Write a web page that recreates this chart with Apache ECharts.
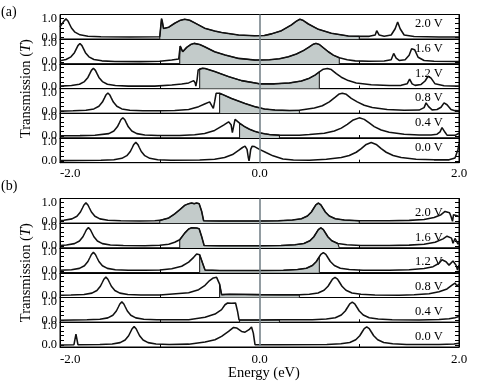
<!DOCTYPE html>
<html><head><meta charset="utf-8">
<script src="https://cdn.jsdelivr.net/npm/echarts@6/dist/echarts.min.js"></script>
<style>html,body{margin:0;padding:0;background:#fff}#c{width:491px;height:390px}</style>
</head><body><div id="c"></div>
<script>
// Voltage labels, rows top to bottom
const voltageLabels = ['2.0 V', '1.6 V', '1.2 V', '0.8 V', '0.4 V', '0.0 V'];
// Half width of the bias window (eV) for each row
const biasHalfWindow = [1.0, 0.8, 0.6, 0.4, 0.2, 0.0];
const xTickLabels = [-2, 0, 2];
const yTickLabels = [0, 1];
const yMinorTicks = [0, 0.25, 0.5, 0.75, 1];

// ---------- panel (a) ----------
const a20 = [[-2.0,0.55],[-1.985,0.62],[-1.96,0.86],[-1.94,0.97],[-1.92,0.86],[-1.905,0.7],[-1.885,0.49],[-1.85,0.27],[-1.8,0.13],[-1.72,0.06],[-1.59,0.03],[-1.3,0.02],
 [-1.0,0.03],[-0.988,0.05],[-0.982,0.98],[-0.975,0.85],[-0.962,0.46],[-0.95,0.44],[-0.91,0.53],[-0.85,0.74],[-0.8,0.88],[-0.75,0.95],[-0.7,0.9],[-0.65,0.76],[-0.55,0.48],[-0.45,0.33],[-0.38,0.25],[-0.21,0.12],[-0.05,0.08],
 [0.05,0.1],[0.12,0.18],[0.22,0.35],[0.32,0.65],[0.37,0.85],[0.405,0.95],[0.44,0.88],[0.49,0.7],[0.59,0.42],[0.72,0.21],[0.89,0.07],[1.0,0.05],
 [1.1,0.05],[1.16,0.12],[1.175,0.35],[1.185,0.4],[1.2,0.12],[1.25,0.06],[1.32,0.12],[1.36,0.45],[1.385,0.8],[1.41,0.45],[1.45,0.12],[1.55,0.04],[1.8,0.02],[2.0,0.02]];
const a16 = [[-2.0,0.07],[-1.94,0.13],[-1.89,0.27],[-1.855,0.49],[-1.835,0.7],[-1.82,0.86],[-1.8,0.97],[-1.78,0.86],[-1.765,0.7],[-1.745,0.49],[-1.71,0.27],[-1.66,0.13],[-1.58,0.06],[-1.45,0.03],[-1.2,0.02],
 [-1.0,0.04],[-0.88,0.1],[-0.81,0.16],[-0.8,0.2],[-0.795,0.84],[-0.785,0.72],[-0.77,0.54],[-0.75,0.62],[-0.73,0.77],[-0.69,0.92],[-0.655,0.98],[-0.6,0.92],[-0.55,0.8],[-0.45,0.54],[-0.345,0.37],[-0.21,0.19],[-0.045,0.1],
 [0.1,0.12],[0.2,0.17],[0.29,0.28],[0.37,0.42],[0.44,0.6],[0.5,0.8],[0.54,0.94],[0.566,0.98],[0.6,0.92],[0.64,0.75],[0.69,0.54],[0.74,0.36],[0.8,0.22],[0.88,0.12],[0.96,0.06],
 [1.1,0.04],[1.25,0.05],[1.32,0.12],[1.345,0.45],[1.355,0.55],[1.37,0.2],[1.4,0.08],[1.46,0.12],[1.5,0.35],[1.525,0.7],[1.54,0.8],[1.555,0.65],[1.59,0.25],[1.65,0.08],[1.75,0.04],[2.0,0.03]];
const a12 = [[-2.0,0.03],[-1.885,0.06],[-1.805,0.13],[-1.755,0.27],[-1.72,0.49],[-1.7,0.7],[-1.685,0.86],[-1.665,0.97],[-1.645,0.86],[-1.63,0.7],[-1.61,0.49],[-1.575,0.27],[-1.525,0.13],[-1.445,0.06],[-1.315,0.03],
 [-1.05,0.03],[-0.88,0.09],[-0.78,0.14],[-0.71,0.2],[-0.66,0.32],[-0.645,0.2],[-0.638,0.03],[-0.625,0.4],[-0.615,0.88],[-0.6,0.95],[-0.57,0.97],[-0.545,0.96],[-0.45,0.8],[-0.31,0.53],[-0.18,0.32],[-0.045,0.2],[0.0,0.15],
 [0.15,0.15],[0.3,0.2],[0.42,0.3],[0.5,0.45],[0.56,0.62],[0.6,0.78],[0.64,0.92],[0.68,0.96],[0.72,0.9],[0.77,0.69],[0.82,0.5],[0.89,0.32],[0.97,0.2],[1.12,0.1],
 [1.3,0.06],[1.42,0.07],[1.48,0.15],[1.505,0.4],[1.515,0.45],[1.53,0.15],[1.56,0.07],[1.62,0.12],[1.66,0.3],[1.69,0.55],[1.705,0.6],[1.72,0.45],[1.76,0.15],[1.85,0.05],[2.0,0.03]];
const a08 = [[-2.0,0.015],[-1.87,0.03],[-1.74,0.06],[-1.66,0.13],[-1.61,0.27],[-1.575,0.49],[-1.555,0.7],[-1.54,0.86],[-1.52,0.97],[-1.5,0.86],[-1.485,0.7],[-1.465,0.49],[-1.43,0.27],[-1.38,0.13],[-1.3,0.06],[-1.17,0.03],
 [-1.0,0.03],[-0.85,0.05],[-0.71,0.1],[-0.61,0.25],[-0.55,0.39],[-0.5,0.5],[-0.48,0.45],[-0.463,0.16],[-0.45,0.5],[-0.435,0.95],[-0.42,0.97],[-0.4,0.96],[-0.38,0.92],[-0.28,0.68],[-0.145,0.42],[-0.045,0.25],[0.05,0.13],[0.155,0.07],[0.3,0.05],[0.4,0.06],
 [0.45,0.1],[0.55,0.18],[0.63,0.3],[0.7,0.5],[0.76,0.75],[0.8,0.92],[0.83,0.96],[0.87,0.9],[0.92,0.69],[0.98,0.5],[1.05,0.32],[1.13,0.2],[1.28,0.1],
 [1.45,0.06],[1.6,0.07],[1.65,0.2],[1.67,0.45],[1.68,0.55],[1.695,0.25],[1.73,0.08],[1.78,0.1],[1.82,0.22],[1.85,0.45],[1.865,0.5],[1.88,0.35],[1.92,0.1],[1.96,0.04],[2.0,0.03]];
const a04 = [[-2.0,0.015],[-1.8,0.025],[-1.65,0.04],[-1.51,0.13],[-1.46,0.27],[-1.425,0.49],[-1.405,0.7],[-1.39,0.86],[-1.37,0.97],[-1.35,0.86],[-1.335,0.7],[-1.315,0.49],[-1.28,0.27],[-1.23,0.13],[-1.15,0.06],[-1.02,0.03],
 [-0.8,0.03],[-0.65,0.07],[-0.55,0.14],[-0.45,0.3],[-0.36,0.58],[-0.31,0.75],[-0.285,0.6],[-0.272,0.18],[-0.26,0.5],[-0.245,0.88],[-0.23,0.9],[-0.2,0.68],[-0.15,0.5],[-0.1,0.36],[-0.05,0.26],[0.0,0.18],[0.05,0.12],[0.1,0.08],[0.2,0.05],[0.4,0.05],
 [0.5,0.08],[0.65,0.15],[0.75,0.27],[0.82,0.42],[0.88,0.62],[0.94,0.85],[1.0,0.96],[1.05,0.88],[1.1,0.69],[1.15,0.5],[1.22,0.32],[1.3,0.2],[1.45,0.1],
 [1.6,0.06],[1.72,0.06],[1.78,0.1],[1.81,0.22],[1.83,0.45],[1.845,0.55],[1.86,0.2],[1.88,0.05],[1.96,0.04],[2.0,0.15]];
const a00 = [[-2.0,0.01],[-1.8,0.015],[-1.59,0.03],[-1.46,0.06],[-1.38,0.13],[-1.33,0.27],[-1.295,0.49],[-1.275,0.7],[-1.26,0.86],[-1.24,0.97],[-1.22,0.86],[-1.205,0.7],[-1.185,0.49],[-1.15,0.27],[-1.1,0.13],[-1.02,0.06],[-0.89,0.03],
 [-0.6,0.04],[-0.45,0.08],[-0.35,0.17],[-0.27,0.33],[-0.21,0.55],[-0.17,0.7],[-0.145,0.77],[-0.125,0.6],[-0.113,0.2],[-0.105,0.0],[-0.097,0.25],[-0.088,0.6],[-0.075,0.76],[-0.05,0.75],[0.0,0.6],[0.07,0.42],[0.135,0.26],[0.235,0.09],[0.34,0.04],[0.5,0.03],
 [0.67,0.08],[0.82,0.17],[0.9,0.28],[0.97,0.45],[1.02,0.64],[1.07,0.86],[1.12,0.96],[1.17,0.86],[1.22,0.64],[1.27,0.45],[1.34,0.28],[1.42,0.17],[1.57,0.08],
 [1.75,0.05],[1.9,0.05],[1.96,0.15],[1.99,0.6],[2.0,0.9]];

// ---------- panel (b) ----------
const b20 = [[-2.0,0.04],[-1.96,0.06],[-1.88,0.13],[-1.83,0.27],[-1.795,0.49],[-1.775,0.7],[-1.76,0.86],[-1.74,0.97],[-1.72,0.86],[-1.705,0.7],[-1.685,0.49],[-1.65,0.27],[-1.6,0.13],[-1.52,0.06],[-1.39,0.03],[-1.2,0.02],
 [-1.05,0.035],[-1.0,0.05],[-0.91,0.18],[-0.85,0.39],[-0.8,0.61],[-0.75,0.84],[-0.71,0.93],[-0.68,0.96],[-0.655,0.93],[-0.63,0.96],[-0.605,0.93],[-0.58,0.53],[-0.56,0.03],[-0.4,0.02],[0.0,0.02],
 [0.19,0.03],[0.33,0.07],[0.42,0.14],[0.48,0.28],[0.52,0.49],[0.545,0.7],[0.565,0.87],[0.59,0.96],[0.615,0.87],[0.635,0.7],[0.66,0.49],[0.7,0.28],[0.76,0.14],[0.85,0.07],[1.0,0.03],
 [1.3,0.03],[1.5,0.05],[1.65,0.1],[1.75,0.2],[1.82,0.35],[1.86,0.52],[1.88,0.58],[1.905,0.45],[1.92,0.25],[1.935,0.0],[1.945,0.35],[1.96,0.45],[1.98,0.3],[2.0,0.25]];
const b16 = [[-2.0,0.03],[-1.935,0.06],[-1.855,0.13],[-1.805,0.27],[-1.77,0.49],[-1.75,0.7],[-1.735,0.86],[-1.715,0.97],[-1.695,0.86],[-1.68,0.7],[-1.66,0.49],[-1.625,0.27],[-1.575,0.13],[-1.495,0.06],[-1.365,0.03],[-1.15,0.02],
 [-1.0,0.04],[-0.91,0.1],[-0.85,0.2],[-0.8,0.33],[-0.75,0.68],[-0.71,0.9],[-0.68,0.96],[-0.63,0.95],[-0.605,0.91],[-0.58,0.5],[-0.555,0.03],[-0.4,0.02],[0.0,0.02],
 [0.215,0.03],[0.355,0.07],[0.445,0.14],[0.505,0.28],[0.545,0.49],[0.57,0.7],[0.59,0.87],[0.615,0.96],[0.64,0.87],[0.66,0.7],[0.685,0.49],[0.725,0.28],[0.785,0.14],[0.8,0.12],[0.875,0.07],[1.015,0.03],
 [1.3,0.03],[1.5,0.05],[1.65,0.1],[1.76,0.2],[1.84,0.38],[1.88,0.52],[1.9,0.57],[1.925,0.42],[1.94,0.15],[1.95,0.05],[1.96,0.4],[1.975,0.3],[1.99,0.1],[2.0,0.2]];
const b12 = [[-2.0,0.03],[-1.885,0.06],[-1.805,0.13],[-1.755,0.27],[-1.72,0.49],[-1.7,0.7],[-1.685,0.86],[-1.665,0.97],[-1.645,0.86],[-1.63,0.7],[-1.61,0.49],[-1.575,0.27],[-1.525,0.13],[-1.445,0.06],[-1.315,0.03],[-1.15,0.03],
 [-1.0,0.04],[-0.88,0.11],[-0.78,0.24],[-0.71,0.46],[-0.66,0.71],[-0.63,0.89],[-0.615,0.9],[-0.6,0.85],[-0.585,0.76],[-0.565,0.32],[-0.546,0.04],[-0.4,0.02],[0.0,0.02],
 [0.24,0.03],[0.38,0.07],[0.47,0.14],[0.53,0.28],[0.57,0.49],[0.6,0.74],[0.615,0.87],[0.64,0.96],[0.665,0.87],[0.685,0.7],[0.71,0.49],[0.75,0.28],[0.81,0.14],[0.9,0.07],[1.04,0.03],
 [1.3,0.03],[1.5,0.06],[1.65,0.12],[1.74,0.22],[1.8,0.4],[1.83,0.58],[1.845,0.62],[1.87,0.48],[1.9,0.3],[1.915,0.27],[1.94,0.52],[1.955,0.58],[1.97,0.3],[1.985,0.05],[2.0,0.3]];
const b08 = [[-2.0,0.015],[-1.89,0.03],[-1.76,0.06],[-1.68,0.13],[-1.63,0.27],[-1.595,0.49],[-1.575,0.7],[-1.56,0.86],[-1.54,0.97],[-1.52,0.86],[-1.505,0.7],[-1.485,0.49],[-1.45,0.27],[-1.4,0.13],[-1.32,0.06],[-1.19,0.03],
 [-1.0,0.03],[-0.71,0.15],[-0.61,0.31],[-0.546,0.54],[-0.5,0.79],[-0.463,0.93],[-0.43,0.96],[-0.413,0.89],[-0.4,0.6],[-0.396,0.49],[-0.38,0.05],[-0.3,0.07],[0.0,0.05],[0.2,0.04],[0.4,0.04],
 [0.5,0.07],[0.587,0.14],[0.647,0.28],[0.687,0.49],[0.712,0.7],[0.732,0.87],[0.757,0.96],[0.782,0.87],[0.802,0.7],[0.827,0.49],[0.867,0.28],[0.927,0.14],[1.017,0.07],[1.157,0.03],[1.4,0.02],
 [1.55,0.04],[1.7,0.1],[1.8,0.2],[1.88,0.35],[1.93,0.55],[1.96,0.66],[1.98,0.5],[2.0,0.6]];
const b04 = [[-2.0,0.01],[-1.73,0.03],[-1.6,0.06],[-1.52,0.13],[-1.47,0.27],[-1.435,0.49],[-1.415,0.7],[-1.4,0.86],[-1.38,0.97],[-1.36,0.86],[-1.345,0.7],[-1.325,0.49],[-1.29,0.27],[-1.24,0.13],[-1.16,0.06],[-1.03,0.03],
 [-0.71,0.035],[-0.546,0.16],[-0.446,0.33],[-0.38,0.56],[-0.346,0.82],[-0.32,0.91],[-0.28,0.9],[-0.24,0.91],[-0.22,0.47],[-0.205,0.02],[-0.2,0.02],[0.0,0.02],[0.2,0.03],
 [0.53,0.03],[0.67,0.07],[0.76,0.14],[0.82,0.28],[0.86,0.49],[0.885,0.7],[0.905,0.87],[0.93,0.96],[0.955,0.87],[0.975,0.7],[1.0,0.49],[1.04,0.28],[1.1,0.14],[1.19,0.07],[1.33,0.03],[1.6,0.02],
 [1.8,0.04],[1.9,0.08],[1.96,0.14],[2.0,0.2]];
const b00 = [[-2.0,0.01],[-1.86,0.02],[-1.85,0.3],[-1.84,0.58],[-1.83,0.3],[-1.82,0.02],[-1.6,0.03],[-1.477,0.06],[-1.397,0.13],[-1.347,0.27],[-1.312,0.49],[-1.292,0.7],[-1.277,0.86],[-1.257,0.97],[-1.237,0.86],[-1.222,0.7],[-1.202,0.49],[-1.167,0.27],[-1.117,0.13],[-1.037,0.06],[-0.907,0.03],
 [-0.71,0.05],[-0.546,0.16],[-0.446,0.28],[-0.38,0.46],[-0.31,0.72],[-0.26,0.93],[-0.23,0.9],[-0.18,0.72],[-0.145,0.68],[-0.105,0.81],[-0.08,0.95],[-0.062,0.63],[-0.045,0.02],[0.2,0.02],
 [0.675,0.03],[0.815,0.07],[0.905,0.14],[0.965,0.28],[1.005,0.49],[1.03,0.7],[1.05,0.87],[1.075,0.96],[1.1,0.87],[1.12,0.7],[1.145,0.49],[1.185,0.28],[1.245,0.14],[1.335,0.07],[1.475,0.03],
 [1.8,0.03],[1.95,0.06],[2.0,0.1]];

const panelACurves = [a20, a16, a12, a08, a04, a00];
const panelBCurves = [b20, b16, b12, b08, b04, b00];

const FONT = 'Liberation Serif';
const Y_MIN = -0.1, Y_MAX = 1.2;
const grids = [], xAxes = [], yAxes = [], series = [], graphics = [];
const panels = [
  {curves: panelACurves, top: 14.5, h: 24.7, labelMargin: 4, vOff: 10},
  {curves: panelBCurves, top: 198.5, h: 24.75, labelMargin: 6.5, vOff: 14.5}
];
let gi = 0;
panels.forEach((P) => {
  P.curves.forEach((curve, r) => {
    const top = P.top + r * P.h;
    const last = r === P.curves.length - 1;
    grids.push({left: 60, width: 399, top: top, height: P.h, show: true, borderColor: '#000', borderWidth: 1, backgroundColor: 'transparent'});
    xAxes.push({type: 'value', gridIndex: gi, min: -2, max: 2,
      axisLine: {show: true, onZero: false, lineStyle: {color: '#000', width: 1}},
      axisTick: {show: true, inside: true, length: 3, customValues: [-1, 1], lineStyle: {color: '#000'}},
      splitLine: {show: false},
      axisLabel: {show: last, customValues: xTickLabels, formatter: v => v.toFixed(1), margin: P.labelMargin,
        fontFamily: FONT, fontSize: 13, color: '#000', alignMinLabel: 'left', alignMaxLabel: 'center'}});
    ['left', 'right'].forEach(pos => {
      yAxes.push({type: 'value', gridIndex: gi, min: Y_MIN, max: Y_MAX, position: pos,
        axisLine: {show: true, onZero: false, lineStyle: {color: '#000', width: 1}},
        axisTick: {show: true, inside: true, length: 4, customValues: yMinorTicks, lineStyle: {color: '#000'}},
        splitLine: {show: false},
        axisLabel: {show: pos === 'left', customValues: yTickLabels, formatter: v => v.toFixed(1), margin: 3,
          fontFamily: FONT, fontSize: 12.5, color: '#000'}});
    });
    const half = biasHalfWindow[r];
    if (half > 0) {
      const inside = curve.filter(p => p[0] >= -half && p[0] <= half);
      series.push({type: 'line', xAxisIndex: gi, yAxisIndex: 2 * gi,
        data: [[-half, Y_MIN]].concat(inside, [[half, Y_MIN]]),
        showSymbol: false, silent: true, z: 2,
        lineStyle: {color: '#222', width: 1.1},
        areaStyle: {color: '#c3cbca', opacity: 1, origin: 'start'}});
    }
    series.push({type: 'line', xAxisIndex: gi, yAxisIndex: 2 * gi, data: [], z: 3, silent: true,
      markLine: {silent: true, symbol: 'none', label: {show: false}, animation: false,
        lineStyle: {color: '#76838a', width: 1.6, type: 'solid'}, data: [{xAxis: 0}]}});
    series.push({type: 'line', xAxisIndex: gi, yAxisIndex: 2 * gi, data: curve, showSymbol: false, z: 4,
      lineStyle: {color: '#111', width: 1.55}});
    graphics.push({type: 'text', left: 415, top: top + P.vOff - 7,
      style: {text: voltageLabels[r], font: '12.5px "Liberation Serif"', fill: '#000'}});
    gi++;
  });
});

const ytitle = (cy) => ({type: 'text', x: 26, y: cy, rotation: Math.PI / 2,
  style: {text: '{r|Transmission (}{i|T}{r|)}', align: 'center', verticalAlign: 'middle',
    rich: {r: {fontFamily: FONT, fontSize: 14.5, fill: '#000'}, i: {fontFamily: FONT, fontSize: 14.5, fontStyle: 'italic', fill: '#000'}}}});
graphics.push(ytitle(88.6), ytitle(272.7));
graphics.push({type: 'text', x: 1, y: 12, style: {text: '(a)', font: '14px "Liberation Serif"', fill: '#000', verticalAlign: 'middle'}});
graphics.push({type: 'text', x: 1, y: 186, style: {text: '(b)', font: '14px "Liberation Serif"', fill: '#000', verticalAlign: 'middle'}});
graphics.push({type: 'text', x: 264, y: 373, style: {text: 'Energy (eV)', font: '14.5px "Liberation Serif"', fill: '#000', align: 'center', verticalAlign: 'middle'}});

const chart = echarts.init(document.getElementById('c'), null, {renderer: 'canvas'});
chart.setOption({
  animation: false,
  textStyle: {fontFamily: FONT},
  grid: grids, xAxis: xAxes, yAxis: yAxes, series: series, graphic: graphics
});
</script></body></html>
